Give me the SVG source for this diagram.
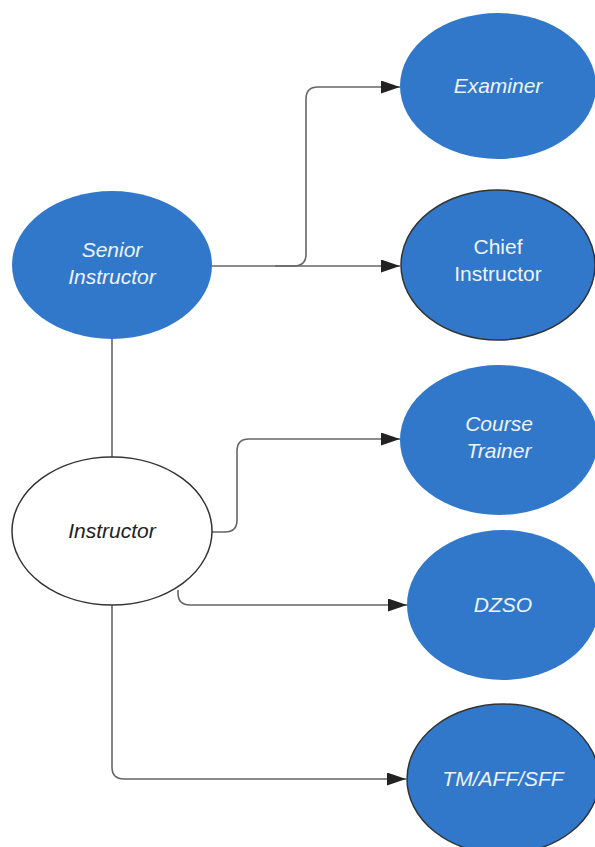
<svg xmlns="http://www.w3.org/2000/svg" width="595" height="847" viewBox="0 0 595 847">
<style>
.blue{fill:#3178cb;}
.out{stroke:#333;stroke-width:1.5;}
.lbl{font-family:"Liberation Sans",Arial,sans-serif;font-size:21px;fill:#eef3fa;text-anchor:middle;}
.it{font-style:italic;}
.dk{fill:#222;}
.con{fill:none;stroke:#666;stroke-width:1.6;}
</style>
<defs>
<marker id="ah" viewBox="0 0 19 13" refX="19" refY="6.5" markerWidth="19" markerHeight="13" markerUnits="userSpaceOnUse" orient="auto">
<path d="M0,0 L19,6.5 L0,13 Z" fill="#222"/>
</marker>
</defs>
<rect width="595" height="847" fill="#fff"/>
<g id="connectors">
<path class="con" d="M212,266 H400" marker-end="url(#ah)"/>
<path class="con" d="M275,266 H294 Q306,266 306,254 V99 Q306,87 318,87 H400" marker-end="url(#ah)"/>
<path class="con" d="M112,338 V457"/>
<path class="con" d="M212,532 H225 Q237,532 237,520 V451 Q237,439 249,439 H400" marker-end="url(#ah)"/>
<path class="con" d="M178,590 V593 Q178,605 190,605 H407" marker-end="url(#ah)"/>
<path class="con" d="M112,605 V767 Q112,779 124,779 H406" marker-end="url(#ah)"/>
</g>
<g id="examiner">
<ellipse class="blue" cx="498" cy="86" rx="98" ry="73"/>
<text class="lbl it" x="498" y="93">Examiner</text>
</g>
<g id="chief-instructor">
<ellipse class="blue out" cx="498" cy="265" rx="97" ry="75"/>
<text class="lbl" x="498" y="254">Chief</text>
<text class="lbl" x="498" y="281">Instructor</text>
</g>
<g id="senior-instructor">
<ellipse class="blue" cx="112" cy="265" rx="100" ry="74"/>
<text class="lbl it" x="112" y="257">Senior</text>
<text class="lbl it" x="112" y="284">Instructor</text>
</g>
<g id="instructor">
<ellipse cx="112" cy="531" rx="100" ry="74" fill="#fff" stroke="#333" stroke-width="1.5"/>
<text class="lbl it dk" x="112" y="538">Instructor</text>
</g>
<g id="course-trainer">
<ellipse class="blue" cx="499" cy="440" rx="99" ry="75"/>
<text class="lbl it" x="499" y="431">Course</text>
<text class="lbl it" x="499" y="458">Trainer</text>
</g>
<g id="dzso">
<ellipse class="blue" cx="503" cy="605" rx="96" ry="75"/>
<text class="lbl it" x="503" y="612">DZSO</text>
</g>
<g id="tm-aff-sff">
<ellipse class="blue out" cx="503" cy="779" rx="96" ry="75"/>
<text class="lbl it" x="503" y="786">TM/AFF/SFF</text>
</g>
</svg>
